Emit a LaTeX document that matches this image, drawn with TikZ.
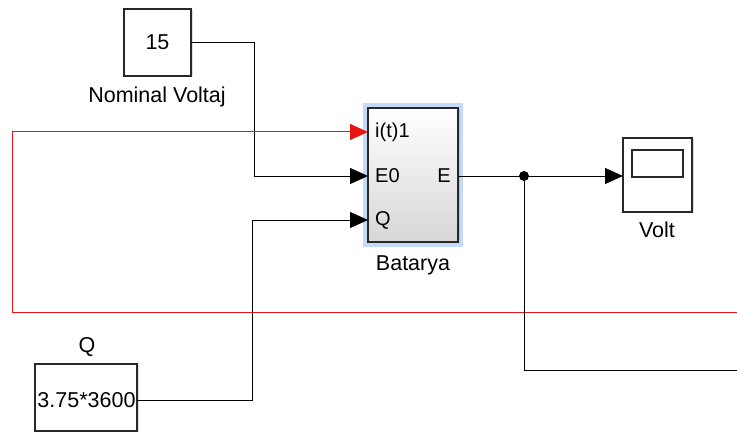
\documentclass[tikz,border=0pt]{standalone}
\usepackage{fontspec}
\setmainfont{Liberation Sans}
\usetikzlibrary{arrows.meta,shadows}
\definecolor{blk}{RGB}{40,40,40}
\definecolor{hilite}{RGB}{196,218,246}
\definecolor{sred}{RGB}{235,20,20}
\tikzset{
  block/.style={draw=blk,line width=1.3pt,fill=white,inner sep=0pt,
    drop shadow={shadow xshift=1.5pt,shadow yshift=-1.5pt,opacity=0.25}},
  wire/.style={draw=black,line width=0.9pt},
  sig/.style={wire,-{Triangle[length=18pt,width=16pt]}},
  redsig/.style={draw=sred,line width=1pt,-{Triangle[length=18pt,width=16pt]}},
  lbl/.style={font=\fontsize{21.5}{25}\selectfont,inner sep=0pt},
  plbl/.style={font=\fontsize{20}{24}\selectfont,inner sep=0pt}
}
\begin{document}
\begin{tikzpicture}[x=1pt,y=-1pt]
\useasboundingbox (0,0) rectangle (737,435);
% constant 15
\node[block,minimum width=67pt,minimum height=67pt,lbl] (c15) at (157.5,42.5) {15};
\node[lbl] (c15l) at (157,97) {Nominal Voltaj};
% battery
\fill[hilite] (363,103) rectangle (463,247);
\node[block,minimum width=90pt,minimum height=134pt,top color=white,bottom color=black!16,drop shadow={opacity=0}] (bat) at (413,175) {};
\node[plbl,anchor=west] (pi) at (375,132) {i(t)1};
\node[plbl,anchor=west] (pe0) at (375,176) {E0};
\node[plbl,anchor=west] (pq) at (375,220) {Q};
\node[plbl,anchor=east] (pe) at (451,176) {E};
\node[lbl] (batl) at (413,265) {Batarya};
% scope
\node[block,minimum width=69pt,minimum height=74pt] (sc) at (657.5,175) {};
\node[draw=blk,line width=1.1pt,minimum width=51pt,minimum height=27pt,inner sep=0pt] (scr) at (657.5,163.5) {};
\node[lbl] (scl) at (657,230) {Volt};
% Q constant
\node[block,minimum width=102pt,minimum height=67pt] (qc) at (86,397.5) {};
\node[lbl] (qct) at (86.5,400) {3.75*3600};
\node[lbl] (qcl) at (87,347) {Q};
% ports and bends
\coordinate (inI) at (368,132);
\coordinate (inE0) at (368,176);
\coordinate (inQ) at (368,220);
\coordinate (outE) at (458,176);
\coordinate (inSc) at (623,176);
\coordinate (j) at (524,176);
\coordinate (rEnd) at (737,313);
\coordinate (bEnd) at (737,370);
\coordinate (c15o) at (191,42.5);
\coordinate (qo) at (137,400);
% wires
\draw[sig] (c15o) -- (254,42.5) -- (254,176) -- (inE0);
\draw[sig] (qo) -- (252,400) -- (252,220) -- (inQ);
\draw[redsig] (rEnd) -- (12,313) -- (12,132) -- (inI);
\draw[sig] (outE) -- (inSc);
\draw[wire] (j) -- (524,370) -- (bEnd);
\fill[black] (j) circle (5pt);
\end{tikzpicture}
\end{document}
